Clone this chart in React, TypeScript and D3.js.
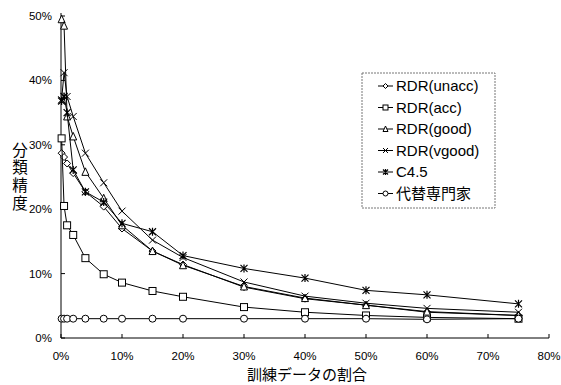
import React from 'react';
import * as d3 from 'd3';

// training data share (%)
const trainPct = [0.1, 0.5, 1, 2, 4, 7, 10, 15, 20, 30, 40, 50, 60, 75];

const rdrUnacc = [28.7, 28.1, 27.1, 25.6, 22.7, 20.4, 17.0, 13.5, 11.4, 7.9, 6.1, 5.1, 4.0, 3.5];
const rdrAcc = [31.0, 20.5, 17.5, 16.0, 12.4, 9.9, 8.6, 7.3, 6.4, 4.8, 4.0, 3.5, 3.2, 3.0];
const rdrGood = [49.5, 48.5, 34.4, 31.3, 25.8, 21.7, 17.5, 13.5, 11.3, 8.0, 6.2, 5.1, 4.1, 3.5];
const rdrVgood = [37.0, 41.2, 37.5, 34.4, 28.7, 24.1, 19.7, 15.2, 12.5, 8.7, 6.5, 5.4, 4.6, 4.0];
const c45 = [36.8, 37.5, 35.0, 26.1, 22.7, 21.1, 17.8, 16.5, 12.8, 10.8, 9.3, 7.4, 6.7, 5.3];
const expert = [3.0, 3.0, 3.0, 3.0, 3.0, 3.0, 3.0, 3.0, 3.0, 3.0, 3.0, 3.0, 2.9, 3.0];

const seriesNames = ['RDR(unacc)', 'RDR(acc)', 'RDR(good)', 'RDR(vgood)', 'C4.5', '代替専門家'];
const seriesValues = [rdrUnacc, rdrAcc, rdrGood, rdrVgood, c45, expert];
const markerKinds = ['diamond', 'square', 'triangle', 'x', 'star', 'circle'];

const xTicks = [0, 10, 20, 30, 40, 50, 60, 70, 80];
const yTicks = [0, 10, 20, 30, 40, 50];

const latin = '"Liberation Sans", Arial, sans-serif';
const cjk = '"Noto Sans CJK JP", "Liberation Sans", sans-serif';

function Marker({ kind, x, y, s }: { kind: string; x: number; y: number; s: number }) {
  const h = s / 2;
  const st = { stroke: '#000', strokeWidth: 1, fill: '#fff' };
  if (kind === 'diamond')
    return <path d={`M${x},${y - h}L${x + h},${y}L${x},${y + h}L${x - h},${y}Z`} {...st} />;
  if (kind === 'square')
    return <rect x={x - h} y={y - h} width={s} height={s} {...st} />;
  if (kind === 'triangle')
    return <path d={`M${x},${y - h - 0.5}L${x + h},${y + h}L${x - h},${y + h}Z`} {...st} />;
  if (kind === 'circle')
    return <circle cx={x} cy={y} r={h} {...st} />;
  if (kind === 'x')
    return <path d={`M${x - h},${y - h}L${x + h},${y + h}M${x - h},${y + h}L${x + h},${y - h}`} stroke="#000" strokeWidth={1} fill="none" />;
  return (
    <path
      d={`M${x - h},${y - h}L${x + h},${y + h}M${x - h},${y + h}L${x + h},${y - h}M${x},${y - h - 0.5}L${x},${y + h + 0.5}`}
      stroke="#000" strokeWidth={1.2} fill="none" />
  );
}

export default function App() {
  const width = 561, height = 385;
  const x = d3.scaleLinear().domain([0, 80]).range([61, 549]);
  const y = d3.scaleLinear().domain([0, 50]).range([338, 16]);
  const line = d3.line<number>().x((d, i) => x(trainPct[i])).y(d => y(d));

  const legX = 362, legY = 73;

  return (
    <svg width={width} height={height} style={{ position: 'absolute', left: 0, top: 0, background: '#fff' }}>
      {/* axes */}
      <line x1={x(0)} x2={x(0)} y1={y(0)} y2={y(50) - 3} stroke="#000" />
      <line x1={x(0)} x2={x(80)} y1={y(0)} y2={y(0)} stroke="#000" />
      {yTicks.map(t => (
        <g key={'y' + t}>
          <line x1={x(0)} x2={x(0) + 4} y1={y(t)} y2={y(t)} stroke="#000" />
          <text x={52} y={y(t)} dy="0.35em" textAnchor="end" fontFamily={latin} fontSize={11.5}>{t}%</text>
        </g>
      ))}
      {xTicks.map(t => (
        <g key={'x' + t}>
          <line x1={x(t)} x2={x(t)} y1={y(0)} y2={y(0) - 4} stroke="#000" />
          <text x={x(t)} y={360} textAnchor="middle" fontFamily={latin} fontSize={11.5}>{t}%</text>
        </g>
      ))}

      {/* series */}
      {seriesValues.map((vals, si) => (
        <g key={'s' + si}>
          <path d={line(vals) || ''} fill="none" stroke="#000" strokeWidth={1} />
          {vals.map((v, i) => (
            <Marker key={i} kind={markerKinds[si]} x={x(trainPct[i])} y={y(v)} s={7} />
          ))}
        </g>
      ))}

      {/* legend */}
      <rect x={legX} y={legY} width={133} height={135} fill="#fff" stroke="#777" strokeWidth={1} strokeDasharray="2,1" />
      {seriesNames.map((n, i) => {
        const cy = 86 + i * 21.5;
        return (
          <g key={'l' + i}>
            <line x1={378} x2={393} y1={cy} y2={cy} stroke="#000" />
            <Marker kind={markerKinds[i]} x={385.5} y={cy} s={5} />
            <text x={396} y={cy} dy="0.36em" fontFamily={i === 5 ? cjk : latin} fontSize={15}>{n}</text>
          </g>
        );
      })}

      {/* axis titles */}
      <text x={307} y={375} dy="0.36em" textAnchor="middle" fontFamily={cjk} fontSize={15}>訓練データの割合</text>
      <text x={20} y={142} fontFamily={cjk} fontSize={15.5} letterSpacing={2.3}
        style={{ writingMode: 'vertical-rl' }}>分類精度</text>
    </svg>
  );
}
